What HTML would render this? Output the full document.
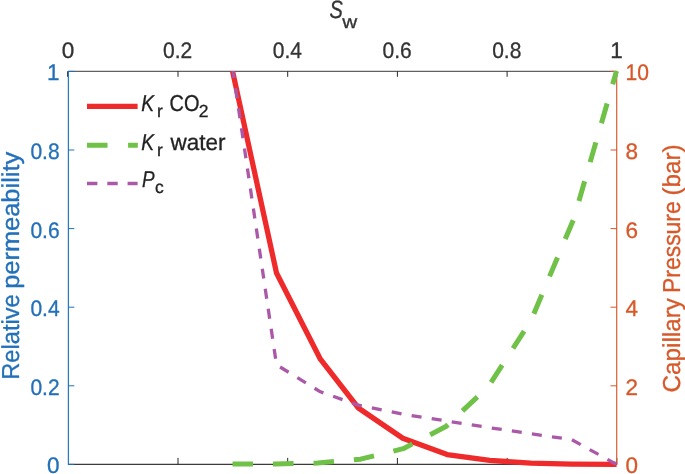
<!DOCTYPE html>
<html><head><meta charset="utf-8"><style>html,body{margin:0;padding:0;background:#fff;width:685px;height:474px;overflow:hidden}svg{display:block}</style></head>
<body><svg width="685" height="474" viewBox="0 0 685 474" font-family='"Liberation Sans", Arial, sans-serif' font-size="22.5" text-rendering="geometricPrecision" stroke-width="0.3">
<rect width="685" height="474" fill="#fff"/>
<line x1="68" y1="71.35" x2="616.5" y2="71.35" stroke="#626060" stroke-width="1.2"/>
<line x1="68" y1="464.45" x2="616.5" y2="464.45" stroke="#3d3a3a" stroke-width="1.2"/>
<line x1="67.60" y1="71.3" x2="67.60" y2="76.8" stroke="#262626" stroke-width="1"/><line x1="178.00" y1="71.3" x2="178.00" y2="76.8" stroke="#262626" stroke-width="1"/><line x1="178.00" y1="464.4" x2="178.00" y2="457.9" stroke="#262626" stroke-width="1"/><line x1="287.70" y1="71.3" x2="287.70" y2="76.8" stroke="#262626" stroke-width="1"/><line x1="287.70" y1="464.4" x2="287.70" y2="457.9" stroke="#262626" stroke-width="1"/><line x1="397.40" y1="71.3" x2="397.40" y2="76.8" stroke="#262626" stroke-width="1"/><line x1="397.40" y1="464.4" x2="397.40" y2="457.9" stroke="#262626" stroke-width="1"/><line x1="507.10" y1="71.3" x2="507.10" y2="76.8" stroke="#262626" stroke-width="1"/><line x1="507.10" y1="464.4" x2="507.10" y2="457.9" stroke="#262626" stroke-width="1"/><line x1="616.80" y1="71.3" x2="616.80" y2="76.8" stroke="#262626" stroke-width="1"/><line x1="616.80" y1="464.4" x2="616.80" y2="457.9" stroke="#262626" stroke-width="1"/>
<line x1="68.4" y1="71" x2="68.4" y2="465" stroke="#2a7cc0" stroke-width="1.25"/>
<line x1="616.7" y1="71" x2="616.7" y2="465" stroke="#D9602F" stroke-width="1.2"/>
<line x1="68" y1="464.40" x2="74.3" y2="464.40" stroke="#2270B9" stroke-width="1"/><line x1="617" y1="464.40" x2="610.5" y2="464.40" stroke="#D75829" stroke-width="1"/><line x1="68" y1="385.80" x2="74.3" y2="385.80" stroke="#2270B9" stroke-width="1"/><line x1="617" y1="385.80" x2="610.5" y2="385.80" stroke="#D75829" stroke-width="1"/><line x1="68" y1="307.20" x2="74.3" y2="307.20" stroke="#2270B9" stroke-width="1"/><line x1="617" y1="307.20" x2="610.5" y2="307.20" stroke="#D75829" stroke-width="1"/><line x1="68" y1="228.60" x2="74.3" y2="228.60" stroke="#2270B9" stroke-width="1"/><line x1="617" y1="228.60" x2="610.5" y2="228.60" stroke="#D75829" stroke-width="1"/><line x1="68" y1="150.00" x2="74.3" y2="150.00" stroke="#2270B9" stroke-width="1"/><line x1="617" y1="150.00" x2="610.5" y2="150.00" stroke="#D75829" stroke-width="1"/><line x1="68" y1="71.40" x2="74.3" y2="71.40" stroke="#2270B9" stroke-width="1"/><line x1="617" y1="71.40" x2="610.5" y2="71.40" stroke="#D75829" stroke-width="1"/>
<text x="68.00" y="58.2" text-anchor="middle" fill="#333333" stroke="#333333">0</text><text x="177.70" y="58.2" text-anchor="middle" fill="#333333" stroke="#333333" textLength="29.2" lengthAdjust="spacingAndGlyphs">0.2</text><text x="287.40" y="58.2" text-anchor="middle" fill="#333333" stroke="#333333" textLength="29.2" lengthAdjust="spacingAndGlyphs">0.4</text><text x="397.10" y="58.2" text-anchor="middle" fill="#333333" stroke="#333333" textLength="29.2" lengthAdjust="spacingAndGlyphs">0.6</text><text x="506.80" y="58.2" text-anchor="middle" fill="#333333" stroke="#333333" textLength="29.2" lengthAdjust="spacingAndGlyphs">0.8</text><text x="616.50" y="58.2" text-anchor="middle" fill="#333333" stroke="#333333">1</text><text x="59.6" y="473.30" text-anchor="end" fill="#2270B9" stroke="#2270B9">0</text><text x="59.6" y="394.70" text-anchor="end" fill="#2270B9" stroke="#2270B9" textLength="29.2" lengthAdjust="spacingAndGlyphs">0.2</text><text x="59.6" y="316.10" text-anchor="end" fill="#2270B9" stroke="#2270B9" textLength="29.2" lengthAdjust="spacingAndGlyphs">0.4</text><text x="59.6" y="237.50" text-anchor="end" fill="#2270B9" stroke="#2270B9" textLength="29.2" lengthAdjust="spacingAndGlyphs">0.6</text><text x="59.6" y="158.90" text-anchor="end" fill="#2270B9" stroke="#2270B9" textLength="29.2" lengthAdjust="spacingAndGlyphs">0.8</text><text x="59.6" y="80.30" text-anchor="end" fill="#2270B9" stroke="#2270B9">1</text><text x="625.6" y="473.30" text-anchor="start" fill="#D75829" stroke="#D75829">0</text><text x="625.6" y="394.70" text-anchor="start" fill="#D75829" stroke="#D75829">2</text><text x="625.6" y="316.10" text-anchor="start" fill="#D75829" stroke="#D75829">4</text><text x="625.6" y="237.50" text-anchor="start" fill="#D75829" stroke="#D75829">6</text><text x="625.6" y="158.90" text-anchor="start" fill="#D75829" stroke="#D75829">8</text><text x="625.6" y="80.30" text-anchor="start" fill="#D75829" stroke="#D75829" textLength="23.4" lengthAdjust="spacingAndGlyphs">10</text>
<text x="329.6" y="18.3" fill="#333333" stroke="#333333" font-size="25" font-style="italic" textLength="13.4" lengthAdjust="spacingAndGlyphs">S</text>
<text x="342.2" y="28.2" fill="#333333" stroke="#333333" font-size="18.5" textLength="15" lengthAdjust="spacingAndGlyphs">w</text>
<g fill="#2270B9" stroke="#2270B9" font-size="24.5"><text transform="translate(19,379.8) rotate(-90)" textLength="85.6" lengthAdjust="spacingAndGlyphs">Relative</text><text transform="translate(19,288.8) rotate(-90)" textLength="137" lengthAdjust="spacingAndGlyphs">permeability</text></g>
<g fill="#D75829" stroke="#D75829" font-size="24.5"><text transform="translate(679.5,392.4) rotate(-90)" textLength="94.2" lengthAdjust="spacingAndGlyphs">Capillary</text><text transform="translate(679.5,292.9) rotate(-90)" textLength="91.6" lengthAdjust="spacingAndGlyphs">Pressure</text><text transform="translate(679.5,195.5) rotate(-90)" textLength="51.2" lengthAdjust="spacingAndGlyphs">(bar)</text></g>
<defs><clipPath id="ax"><rect x="60" y="71" width="560" height="400"/></clipPath></defs>
<g fill="none" stroke-linejoin="round" clip-path="url(#ax)">
<polyline points="232.50,71.00 276.50,273.00 320.40,359.20 358.40,408.00 402.80,438.30 447.10,454.60 489.70,460.30 530.80,463.20 571.50,464.10 616.60,464.30" stroke="#EE2A2A" stroke-width="5.3"/>
<polyline points="232.55,464.00 275.21,463.94 317.87,463.04 360.53,459.15 403.19,448.67 445.86,426.56 488.52,386.37 531.18,320.18 573.84,218.65 616.50,71.00" stroke="#6FC147" stroke-width="5.0" stroke-dasharray="20.5 20"/>
<polyline points="232.50,67.60 276.50,364.80 320.40,391.80 358.40,405.20 402.80,414.20 447.10,421.10 489.70,427.70 530.80,433.80 571.50,439.50 616.80,464.60" stroke="#AB58A9" stroke-width="3.3" stroke-dasharray="10 10.27" stroke-dashoffset="-0.6"/>
</g>
<g fill="none">
<line x1="87" y1="106.3" x2="137.6" y2="106.3" stroke="#EE2A2A" stroke-width="5.3"/>
<line x1="87" y1="145.2" x2="137.8" y2="145.2" stroke="#6FC147" stroke-width="5.1" stroke-dasharray="20.5 20.6"/>
<line x1="87" y1="183.5" x2="137.6" y2="183.5" stroke="#AB58A9" stroke-width="3.3" stroke-dasharray="10.4 9.9"/>
</g>
<g fill="#222" stroke="#222" font-size="23">
<text x="141.2" y="110.6" font-style="italic" textLength="12.8" lengthAdjust="spacingAndGlyphs">K</text>
<text x="157" y="116.5" font-size="17.5">r</text>
<text x="169.6" y="110.6" textLength="29.9" lengthAdjust="spacingAndGlyphs">CO</text>
<text x="198.8" y="116.5" font-size="17.5">2</text>
<text x="141.2" y="150" font-style="italic" textLength="12.8" lengthAdjust="spacingAndGlyphs">K</text>
<text x="157" y="155.9" font-size="17.5">r</text>
<text x="170.6" y="150" textLength="55" lengthAdjust="spacingAndGlyphs">water</text>
<text x="142" y="186.8" font-style="italic" textLength="12.6" lengthAdjust="spacingAndGlyphs">P</text>
<text x="155" y="192.8" font-size="17.5">c</text>
</g>
</svg></body></html>
